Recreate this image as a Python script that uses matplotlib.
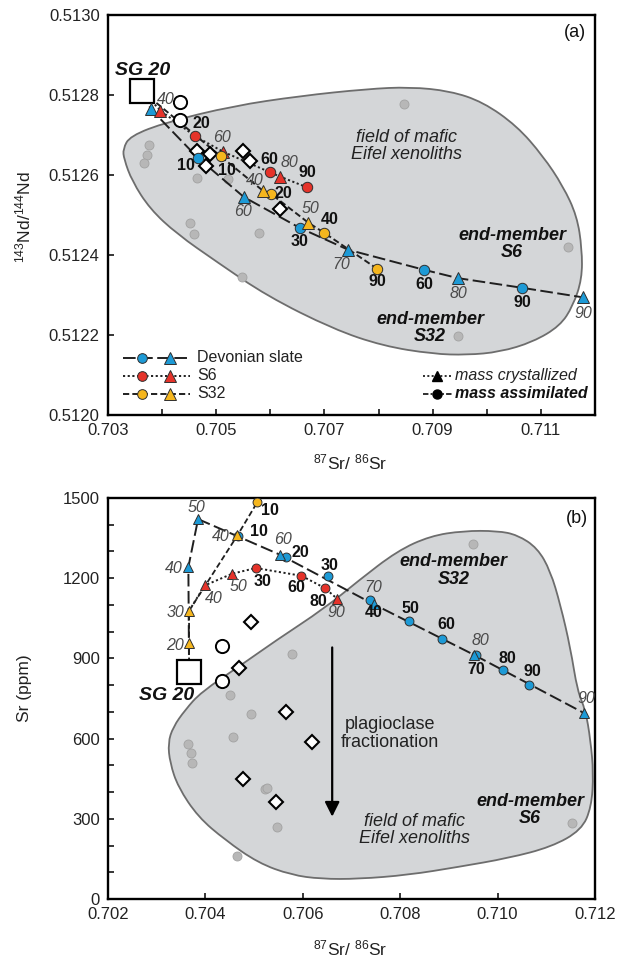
import numpy as np
import matplotlib
matplotlib.use('Agg')
import matplotlib.pyplot as plt
from matplotlib.path import Path
from matplotlib.patches import PathPatch

plt.rcParams['font.family'] = ['Liberation Sans', 'DejaVu Sans']
plt.rcParams['mathtext.default'] = 'regular'

# ---------------- Panel (a): 143Nd/144Nd vs 87Sr/86Sr ----------------
sg20_a_x, sg20_a_y = 0.70363, 0.51281

ds_circ_a_x = [0.70466, 0.70654, 0.70884, 0.71065]
ds_circ_a_y = [0.512643, 0.512468, 0.512363, 0.512318]
ds_circ_a_lab = [10, 30, 60, 90]
ds_tri_a_x = [0.70379, 0.70551, 0.70744, 0.70947, 0.71178]
ds_tri_a_y = [0.512765, 0.512545, 0.512413, 0.512342, 0.512294]
ds_tri_a_lab = [None, 60, 70, 80, 90]

s6_circ_a_x = [0.70461, 0.70599, 0.70668]
s6_circ_a_y = [0.512697, 0.512607, 0.512569]
s6_circ_a_lab = [20, 60, 90]
s6_tri_a_x = [0.70397, 0.70513, 0.70618]
s6_tri_a_y = [0.512761, 0.512658, 0.512596]
s6_tri_a_lab = [40, 60, 80]

s32_circ_a_x = [0.70508, 0.70601, 0.70700, 0.70798]
s32_circ_a_y = [0.512647, 0.512553, 0.512455, 0.512365]
s32_circ_a_lab = [10, 20, 40, 90]
s32_tri_a_x = [0.70586, 0.70670]
s32_tri_a_y = [0.512561, 0.512481]
s32_tri_a_lab = [40, 50]

open_circ_a_x = [0.70433, 0.70434]
open_circ_a_y = [0.512782, 0.512738]
open_diam_a_x = [0.70465, 0.70489, 0.70481, 0.70550, 0.70562, 0.70618]
open_diam_a_y = [0.512661, 0.512653, 0.512623, 0.512661, 0.512636, 0.512516]

xeno_a_x = [0.70847, 0.70375, 0.70372, 0.70366, 0.70464, 0.70521, 0.70452,
            0.70459, 0.70579, 0.70547, 0.71150, 0.70946]
xeno_a_y = [0.512777, 0.512675, 0.51265, 0.51263, 0.512592, 0.512589, 0.512479,
            0.512453, 0.512455, 0.512344, 0.512419, 0.512198]

field_a_x = [0.703277, 0.703407, 0.704090, 0.705310, 0.706548, 0.707786, 0.708581,
             0.709320, 0.709930, 0.710558, 0.711039, 0.711408, 0.711667, 0.711760,
             0.711760, 0.711593, 0.711353, 0.710854, 0.710244, 0.709634, 0.709006,
             0.708082, 0.707158, 0.705938, 0.705014, 0.704275, 0.703776, 0.703444,
             0.703296]
field_a_y = [0.512665, 0.5126975, 0.5127325, 0.5127725, 0.5127975, 0.512815, 0.51282,
             0.51281, 0.5127825, 0.5127225, 0.5126475, 0.5125725, 0.5124975, 0.512415,
             0.51234, 0.5122725, 0.5122225, 0.5121825, 0.5121575, 0.51215, 0.5121525,
             0.5121725, 0.512215, 0.5122975, 0.5123825, 0.5124525, 0.512515, 0.512585,
             0.51264]

xticks_a = [0.703, 0.704, 0.705, 0.706, 0.707, 0.708, 0.709, 0.710, 0.711, 0.712]
xticklabels_a = ['0.703', '', '0.705', '', '0.707', '', '0.709', '', '0.711', '']
yticks_a = [0.5120, 0.5122, 0.5124, 0.5126, 0.5128, 0.5130]
yticklabels_a = ['0.5120', '0.5122', '0.5124', '0.5126', '0.5128', '0.5130']

# ---------------- Panel (b): Sr (ppm) vs 87Sr/86Sr ----------------
sg20_b_x, sg20_b_y = 0.703665, 849

ds_circ_b_x = [0.70466, 0.705665, 0.706508, 0.707371, 0.708173, 0.708859, 0.709558, 0.710113, 0.710654]
ds_circ_b_y = [1358, 1279, 1207, 1120, 1039, 973, 912, 855, 802]
ds_circ_b_lab = [10, 20, 30, 40, 50, 60, 70, 80, 90]
ds_tri_b_x = [0.703651, 0.703850, 0.705529, 0.707453, 0.709508, 0.711770]
ds_tri_b_y = [1242, 1421, 1288, 1103, 914, 696]
ds_tri_b_lab = [40, 50, 60, 70, 80, 90]

s6_circ_b_x = [0.705036, 0.705973, 0.706454]
s6_circ_b_y = [1238, 1209, 1163]
s6_circ_b_lab = [30, 60, 80]
s6_tri_b_x = [0.703988, 0.704555, 0.706713]
s6_tri_b_y = [1173, 1217, 1122]
s6_tri_b_lab = [40, 50, 90]

s32_circ_b_x = [0.705069]
s32_circ_b_y = [1485]
s32_circ_b_lab = [10]
s32_tri_b_x = [0.703665, 0.703665, 0.704658]
s32_tri_b_y = [958, 1078, 1360]
s32_tri_b_lab = [20, 30, 40]

open_circ_b_x = [0.704343, 0.704343]
open_circ_b_y = [945, 817]
open_diam_b_x = [0.704933, 0.704693, 0.705653, 0.706193, 0.704775, 0.705460]
open_diam_b_y = [1035, 864, 701, 588, 448, 364]

xeno_b_x = [0.705789, 0.704501, 0.709494, 0.704946, 0.704575, 0.703644, 0.703699,
            0.703733, 0.705221, 0.705274, 0.705480, 0.704658, 0.711523]
xeno_b_y = [918, 764, 1328, 692, 607, 580, 547, 510, 410, 416, 270, 162, 283]

field_b_x = [0.703912, 0.704734, 0.705433, 0.706460, 0.707139, 0.707940, 0.708619,
             0.709297, 0.709996, 0.710407, 0.710818, 0.711085, 0.711291, 0.711496,
             0.711640, 0.711805, 0.711908, 0.711969, 0.711928, 0.711723, 0.711106,
             0.710222, 0.709194, 0.708167, 0.707139, 0.706378, 0.705762, 0.705083,
             0.704405, 0.703850, 0.703439, 0.703274, 0.703233, 0.703336, 0.703583]
field_b_y = [774, 875, 965, 1089, 1190, 1302, 1358, 1377, 1377, 1362, 1313, 1227, 1100,
             939, 778, 707, 595, 471, 344, 258, 195, 153, 120, 90, 75, 75, 90, 135, 221,
             307, 419, 509, 584, 643, 707]

plag_x, plag_top, plag_bottom = 0.706604, 941, 308

xticks_b = [0.702, 0.704, 0.706, 0.708, 0.710, 0.712]
xticklabels_b = ['0.702', '0.704', '0.706', '0.708', '0.710', '0.712']
yticks_b = [0, 300, 600, 900, 1200, 1500]
yticklabels_b = ['0', '300', '600', '900', '1200', '1500']

# ---------------- styling ----------------
BLUE = '#1d9ad6'
RED = '#e5332a'
YEL = '#f5b61e'
EDGE = '#2f2f2f'
FIELD_FC = '#d4d6d8'
FIELD_EC = '#6d6d6d'
DOT_FC = '#b7b7b7'
DOT_EC = '#a2a2a2'
DS_LS = (0, (6.5, 2.3))
S6_LS = (0, (1.1, 1.3))
S32_LS = (0, (3.2, 1.6))
LINE_C = '#1f1f1f'

fig = plt.figure(figsize=(6.17, 9.61), dpi=100)
axa = fig.add_axes([0.175, 0.5682, 0.7893, 0.4162])
axb = fig.add_axes([0.175, 0.0645, 0.7893, 0.4173])


def field_patch(ax, xs, ys):
    pts = np.column_stack([xs, ys])
    mids = (pts + np.roll(pts, -1, axis=0)) / 2.0
    verts = [mids[-1]]
    codes = [Path.MOVETO]
    for i in range(len(pts)):
        verts += [pts[i], mids[i]]
        codes += [Path.CURVE3, Path.CURVE3]
    verts.append(mids[-1])
    codes.append(Path.CLOSEPOLY)
    ax.add_patch(PathPatch(Path(verts, codes), fc=FIELD_FC, ec=FIELD_EC, lw=1.3, zorder=0.5))


def curve(ax, xs, ys, ls, lw=1.4):
    ax.plot(xs, ys, color=LINE_C, ls=ls, lw=lw, zorder=2, solid_capstyle='butt')


def markers(ax, xs, ys, mk, color, ms, z=4):
    ax.plot(xs, ys, ls='none', marker=mk, ms=ms, mfc=color, mec=EDGE, mew=0.7, zorder=z)


def labels(ax, xs, ys, labs, offs, bold, fs=11.5):
    for x, y, l, (dx, dy) in zip(xs, ys, labs, offs):
        if l is None:
            continue
        ax.annotate(str(l), (x, y), xytext=(dx * 0.72, -dy * 0.72), textcoords='offset points',
                    ha='center', va='center', fontsize=fs,
                    fontweight='bold' if bold else 'normal',
                    fontstyle='normal' if bold else 'italic',
                    color='#111111' if bold else '#4a4a4a', zorder=6)


def sorted_line(xs, ys):
    order = np.argsort(xs, kind='stable')
    return np.asarray(xs)[order], np.asarray(ys)[order]


# ================= Panel (a) =================
ax = axa
field_patch(ax, field_a_x, field_a_y)
ax.plot(xeno_a_x, xeno_a_y, ls='none', marker='o', ms=6.5, mfc=DOT_FC, mec=DOT_EC, mew=0.6, zorder=1)

for cx, cy, tx, ty, ls in [
    (ds_circ_a_x, ds_circ_a_y, ds_tri_a_x, ds_tri_a_y, DS_LS),
    (s6_circ_a_x, s6_circ_a_y, s6_tri_a_x, s6_tri_a_y, S6_LS),
    (s32_circ_a_x, s32_circ_a_y, s32_tri_a_x, s32_tri_a_y, S32_LS)]:
    lx, ly = sorted_line([sg20_a_x] + cx + tx, [sg20_a_y] + cy + ty)
    curve(ax, lx, ly, ls)

ax.plot(open_diam_a_x, open_diam_a_y, ls='none', marker='D', ms=7.6, mfc='white', mec='black', mew=1.5, zorder=3)
ax.plot(open_circ_a_x, open_circ_a_y, ls='none', marker='o', ms=9.5, mfc='white', mec='black', mew=1.4, zorder=3)
ax.plot([sg20_a_x], [sg20_a_y], ls='none', marker='s', ms=17, mfc='white', mec='black', mew=1.6, zorder=3.5)

markers(ax, ds_circ_a_x, ds_circ_a_y, 'o', BLUE, 7.5)
markers(ax, ds_tri_a_x, ds_tri_a_y, '^', BLUE, 8.5)
markers(ax, s6_circ_a_x, s6_circ_a_y, 'o', RED, 7.5)
markers(ax, s6_tri_a_x, s6_tri_a_y, '^', RED, 8.5)
markers(ax, s32_circ_a_x, s32_circ_a_y, 'o', YEL, 7.5)
markers(ax, s32_tri_a_x, s32_tri_a_y, '^', YEL, 8.5)

labels(ax, ds_circ_a_x, ds_circ_a_y, ds_circ_a_lab, [(-12, 8), (0, 14), (0, 15), (0, 15)], True)
labels(ax, ds_tri_a_x, ds_tri_a_y, ds_tri_a_lab, [(0, 0), (-1, 15), (-7, 15), (0, 15), (0, 16)], False)
labels(ax, s6_circ_a_x, s6_circ_a_y, s6_circ_a_lab, [(6, -13), (0, -13), (0, -15)], True)
labels(ax, s6_tri_a_x, s6_tri_a_y, s6_tri_a_lab, [(5, -11), (-1, -14), (9, -14)], False)
labels(ax, s32_circ_a_x, s32_circ_a_y, s32_circ_a_lab, [(6, 14), (13, 0), (5, -13), (0, 13)], True)
labels(ax, s32_tri_a_x, s32_tri_a_y, s32_tri_a_lab, [(-8, -10), (2, -14)], False)

ax.text(0.708526, 0.5126725, 'field of mafic\nEifel xenoliths', ha='center', va='center',
        fontsize=13, fontstyle='italic', color='#222', linespacing=1.05, zorder=5)
ax.text(0.710466, 0.5124275, 'end-member\nS6', ha='center', va='center', fontsize=13,
        fontstyle='italic', fontweight='bold', color='#111', linespacing=1.05, zorder=5)
ax.text(0.708951, 0.5122175, 'end-member\nS32', ha='center', va='center', fontsize=13,
        fontstyle='italic', fontweight='bold', color='#111', linespacing=1.05, zorder=5)
ax.text(0.703647, 0.51286, 'SG 20', ha='center', va='center', fontsize=14,
        fontstyle='italic', fontweight='bold', color='#111', zorder=5)
ax.text(0.959, 0.955, '(a)', transform=ax.transAxes, ha='center', va='center', fontsize=13, color='#111')

# legend (drawn in axes fraction)
for (name, c, ls), yy in zip([('Devonian slate', BLUE, DS_LS), ('S6', RED, S6_LS), ('S32', YEL, S32_LS)],
                             [0.1425, 0.0975, 0.0525]):
    ax.plot([0.031, 0.168], [yy, yy], transform=ax.transAxes, color=LINE_C, ls=ls, lw=1.4, zorder=7)
    ax.plot([0.07], [yy], transform=ax.transAxes, marker='o', ms=7, mfc=c, mec=EDGE, mew=0.7, zorder=8)
    ax.plot([0.127], [yy], transform=ax.transAxes, marker='^', ms=8, mfc=c, mec=EDGE, mew=0.7, zorder=8)
    ax.text(0.183, yy, name, transform=ax.transAxes, va='center', ha='left', fontsize=11.5, color='#222')

ax.plot([0.647, 0.706], [0.0975, 0.0975], transform=ax.transAxes, color=LINE_C, ls=(0, (1.1, 1.3)), lw=1.3, zorder=7)
ax.plot([0.676], [0.0975], transform=ax.transAxes, marker='^', ms=7, color='black', zorder=8)
ax.text(0.713, 0.0975, 'mass crystallized', transform=ax.transAxes, va='center', ha='left',
        fontsize=11.5, fontstyle='italic', color='#222')
ax.plot([0.647, 0.706], [0.0525, 0.0525], transform=ax.transAxes, color=LINE_C, ls=(0, (3, 1.2, 1, 1.2)), lw=1.3, zorder=7)
ax.plot([0.676], [0.0525], transform=ax.transAxes, marker='o', ms=6.5, color='black', zorder=8)
ax.text(0.713, 0.0525, 'mass assimilated', transform=ax.transAxes, va='center', ha='left',
        fontsize=11.5, fontstyle='italic', fontweight='bold', color='#111')

ax.set_xlim(0.703, 0.712)
ax.set_ylim(0.5120, 0.5130)
ax.set_xticks(xticks_a)
ax.set_xticklabels(xticklabels_a)
ax.set_yticks(yticks_a)
ax.set_yticklabels(yticklabels_a)

# ================= Panel (b) =================
ax = axb
field_patch(ax, field_b_x, field_b_y)
ax.plot(xeno_b_x, xeno_b_y, ls='none', marker='o', ms=6.5, mfc=DOT_FC, mec=DOT_EC, mew=0.6, zorder=1)

# Devonian slate curve: SG 20 -> crystallized steps (assimilated points lie on it)
curve(ax, [sg20_b_x] + ds_tri_b_x, [sg20_b_y] + ds_tri_b_y, DS_LS)
# S32 curve: SG 20 -> triangles -> circle
curve(ax, [sg20_b_x] + s32_tri_b_x + s32_circ_b_x, [sg20_b_y] + s32_tri_b_y + s32_circ_b_y, S32_LS, lw=1.3)
# S6 curve branches off the common trunk at the S32 30 % step
lx, ly = sorted_line(s6_circ_b_x + s6_tri_b_x, s6_circ_b_y + s6_tri_b_y)
curve(ax, [s32_tri_b_x[1]] + list(lx), [s32_tri_b_y[1]] + list(ly), S6_LS)

ax.annotate('', xy=(plag_x, plag_bottom), xytext=(plag_x, plag_top),
            arrowprops=dict(arrowstyle='-|>', lw=1.6, color='black', mutation_scale=22, shrinkA=0, shrinkB=0),
            zorder=5)

ax.plot(open_diam_b_x, open_diam_b_y, ls='none', marker='D', ms=7.6, mfc='white', mec='black', mew=1.5, zorder=3)
ax.plot(open_circ_b_x, open_circ_b_y, ls='none', marker='o', ms=9.5, mfc='white', mec='black', mew=1.4, zorder=3)
ax.plot([sg20_b_x], [sg20_b_y], ls='none', marker='s', ms=17, mfc='white', mec='black', mew=1.6, zorder=3.5)

markers(ax, ds_circ_b_x, ds_circ_b_y, 'o', BLUE, 6.4, z=3.8)
markers(ax, ds_tri_b_x, ds_tri_b_y, '^', BLUE, 7.2)
markers(ax, s6_circ_b_x, s6_circ_b_y, 'o', RED, 6.4)
markers(ax, s6_tri_b_x, s6_tri_b_y, '^', RED, 7.2)
markers(ax, s32_circ_b_x, s32_circ_b_y, 'o', YEL, 6.4)
markers(ax, s32_tri_b_x, s32_tri_b_y, '^', YEL, 7.2, z=4.5)

labels(ax, ds_circ_b_x, ds_circ_b_y, ds_circ_b_lab,
       [(21, -4), (14, -5), (2, -11), (4, 13), (2, -13), (4, -14), (0, 14), (4, -12), (3, -13)], True)
labels(ax, ds_tri_b_x, ds_tri_b_y, ds_tri_b_lab,
       [(-15, 2), (-2, -12), (3, -15), (0, -17), (7, -14), (3, -14)], False)
labels(ax, s6_circ_b_x, s6_circ_b_y, s6_circ_b_lab, [(7, 13), (-5, 12), (-7, 13)], True)
labels(ax, s6_tri_b_x, s6_tri_b_y, s6_tri_b_lab, [(9, 13), (6, 13), (-1, 13)], False)
labels(ax, s32_circ_b_x, s32_circ_b_y, s32_circ_b_lab, [(13, 8)], True)
labels(ax, s32_tri_b_x, s32_tri_b_y, s32_tri_b_lab, [(-14, 3), (-14, 2), (-17, 1)], False)

ax.text(0.707790, 620, 'plagioclase\nfractionation', ha='center', va='center', fontsize=13,
        color='#222', linespacing=1.05, zorder=5)
ax.text(0.708304, 258, 'field of mafic\nEifel xenoliths', ha='center', va='center', fontsize=13,
        fontstyle='italic', color='#222', linespacing=1.05, zorder=5)
ax.text(0.710668, 333, 'end-member\nS6', ha='center', va='center', fontsize=13,
        fontstyle='italic', fontweight='bold', color='#111', linespacing=1.05, zorder=5)
ax.text(0.709098, 1229, 'end-member\nS32', ha='center', va='center', fontsize=13,
        fontstyle='italic', fontweight='bold', color='#111', linespacing=1.05, zorder=5)
ax.text(0.703213, 763, 'SG 20', ha='center', va='center', fontsize=14,
        fontstyle='italic', fontweight='bold', color='#111', zorder=5)
ax.text(0.962, 0.948, '(b)', transform=ax.transAxes, ha='center', va='center', fontsize=13, color='#111')

ax.set_xlim(0.702, 0.712)
ax.set_ylim(0, 1500)
ax.set_xticks(xticks_b)
ax.set_xticklabels(xticklabels_b)
ax.set_yticks(yticks_b)
ax.set_yticklabels(yticklabels_b)
ax.set_yticks(np.arange(0, 1501, 100), minor=True)

for ax in (axa, axb):
    for s in ax.spines.values():
        s.set_linewidth(1.7)
        s.set_color('black')
    ax.tick_params(which='both', direction='in', length=4.5, width=1.1, labelsize=12,
                   labelcolor='#222', pad=6)
    ax.tick_params(which='minor', length=4.5)

fig.text(350 / 617, 1 - 462 / 961, '$^{87}$Sr/ $^{86}$Sr', ha='center', va='center', fontsize=12.5, color='#222')
fig.text(350 / 617, 1 - 948 / 961, '$^{87}$Sr/ $^{86}$Sr', ha='center', va='center', fontsize=12.5, color='#222')
fig.text(23 / 617, 1 - 217 / 961, '$^{143}$Nd/$^{144}$Nd', ha='center', va='center', rotation=90,
         fontsize=12.5, color='#222')
fig.text(24 / 617, 1 - 688 / 961, 'Sr (ppm)', ha='center', va='center', rotation=90, fontsize=12.5, color='#222')

fig.savefig('out.png', dpi=100)
